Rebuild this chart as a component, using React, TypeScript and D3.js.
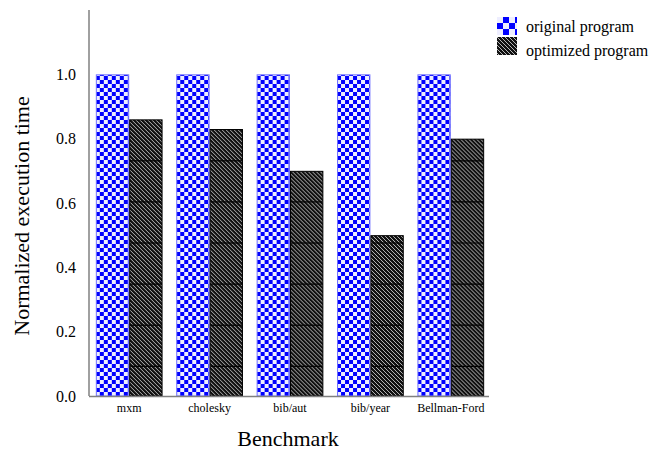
import React from "react";
import * as d3 from "d3";

const categories = ["mxm", "cholesky", "bib/aut", "bib/year", "Bellman-Ford"];
const seriesNames = ["original program", "optimized program"];
const originalValues = [1.0, 1.0, 1.0, 1.0, 1.0];
const optimizedValues = [0.86, 0.83, 0.7, 0.5, 0.8];
const yTicks = [0, 0.2, 0.4, 0.6, 0.8, 1.0];

const W = 657;
const H = 452;
const FONT = "'Liberation Serif', 'Times New Roman', serif";

// texture seams visible in the hatched bars (pixel rows, styling only)
const SEAM_START = 37.5;
const SEAM_STEP = 41.1;

export default function App() {
  const x0 = d3
    .scaleBand<string>()
    .domain(categories)
    .range([89, 491])
    .paddingInner(0.17)
    .paddingOuter(0.085);
  const x1 = d3
    .scaleBand<string>()
    .domain(seriesNames)
    .range([0, x0.bandwidth()]);
  const y = d3.scaleLinear().domain([0, 1.2]).range([396, 10]);

  const seriesData = [originalValues, optimizedValues];
  const fills = ["url(#checker)", "url(#hatch)"];
  const strokes = ["#7070ff", "#000"];

  const seams: number[] = [];
  for (let s = SEAM_START; s < y(0); s += SEAM_STEP) seams.push(s);

  return (
    <svg
      width={W}
      height={H}
      style={{ position: "absolute", left: 0, top: 0 }}
      fontFamily={FONT}
    >
      <defs>
        <pattern id="checker" patternUnits="userSpaceOnUse" width={8} height={8}>
          <rect width={8} height={8} fill="#0000ff" />
          <rect x={0} y={0} width={4} height={4} fill="#eeeeff" />
          <rect x={4} y={4} width={4} height={4} fill="#eeeeff" />
        </pattern>
        <pattern id="checkerBig" patternUnits="userSpaceOnUse" width={12} height={12} x={497} y={17}>
          <rect width={12} height={12} fill="#0000ff" />
          <rect x={0} y={0} width={6} height={6} fill="#eeeeff" />
          <rect x={6} y={6} width={6} height={6} fill="#eeeeff" />
        </pattern>
        <pattern id="hatch" patternUnits="userSpaceOnUse" width={4} height={4}>
          <rect width={4} height={4} fill="#111" />
          <path d="M-1,-1 L5,5 M-1,3 L1,5 M3,-1 L5,1" stroke="#b8b8b8" strokeWidth={1} />
        </pattern>
      </defs>

      {/* bars */}
      {categories.map((c, i) => (
        <g key={c} transform={`translate(${x0(c)},0)`}>
          {seriesNames.map((s, j) => {
            const v = seriesData[j][i];
            const bx = x1(s)!;
            const by = y(v);
            const bh = y(0) - y(v);
            const bw = x1.bandwidth();
            return (
              <g key={s}>
                <rect
                  x={bx + 0.5}
                  y={by + 0.5}
                  width={bw - 1}
                  height={bh - 0.5}
                  fill={fills[j]}
                  stroke={strokes[j]}
                  strokeWidth={1}
                />
                {j === 1 &&
                  seams
                    .filter((sy) => sy > by + 2)
                    .map((sy) => (
                      <line
                        key={sy}
                        x1={bx + 1}
                        x2={bx + bw - 1}
                        y1={sy}
                        y2={sy}
                        stroke="#000"
                        strokeWidth={1.2}
                      />
                    ))}
              </g>
            );
          })}
        </g>
      ))}

      {/* axes */}
      <line x1={89} x2={89} y1={y(1.2)} y2={y(0)} stroke="#808080" strokeWidth={1.5} />
      <line x1={89} x2={489} y1={y(0) + 0.5} y2={y(0) + 0.5} stroke="#808080" strokeWidth={1.5} />

      {yTicks.map((t) => (
        <text
          key={t}
          x={76}
          y={y(t)}
          dy="0.35em"
          textAnchor="end"
          fontSize={16}
          fill="#000"
        >
          {t.toFixed(1)}
        </text>
      ))}

      {categories.map((c) => (
        <text
          key={c}
          x={x0(c)! + x0.bandwidth() / 2}
          y={412}
          textAnchor="middle"
          fontSize={12}
          fill="#000"
        >
          {c}
        </text>
      ))}

      <text x={288} y={446} textAnchor="middle" fontSize={22} fill="#000">
        Benchmark
      </text>
      <text
        transform={`translate(29,216) rotate(-90)`}
        textAnchor="middle"
        fontSize={22}
        fill="#000"
      >
        Normalized execution time
      </text>

      {/* legend */}
      <rect x={497} y={17} width={20} height={18} fill="url(#checkerBig)" />
      <text x={526} y={32} fontSize={16} fill="#000">
        {seriesNames[0]}
      </text>
      <rect x={497} y={37} width={20} height={18} fill="url(#hatch)" />
      <text x={526} y={56} fontSize={16} fill="#000">
        {seriesNames[1]}
      </text>
    </svg>
  );
}
